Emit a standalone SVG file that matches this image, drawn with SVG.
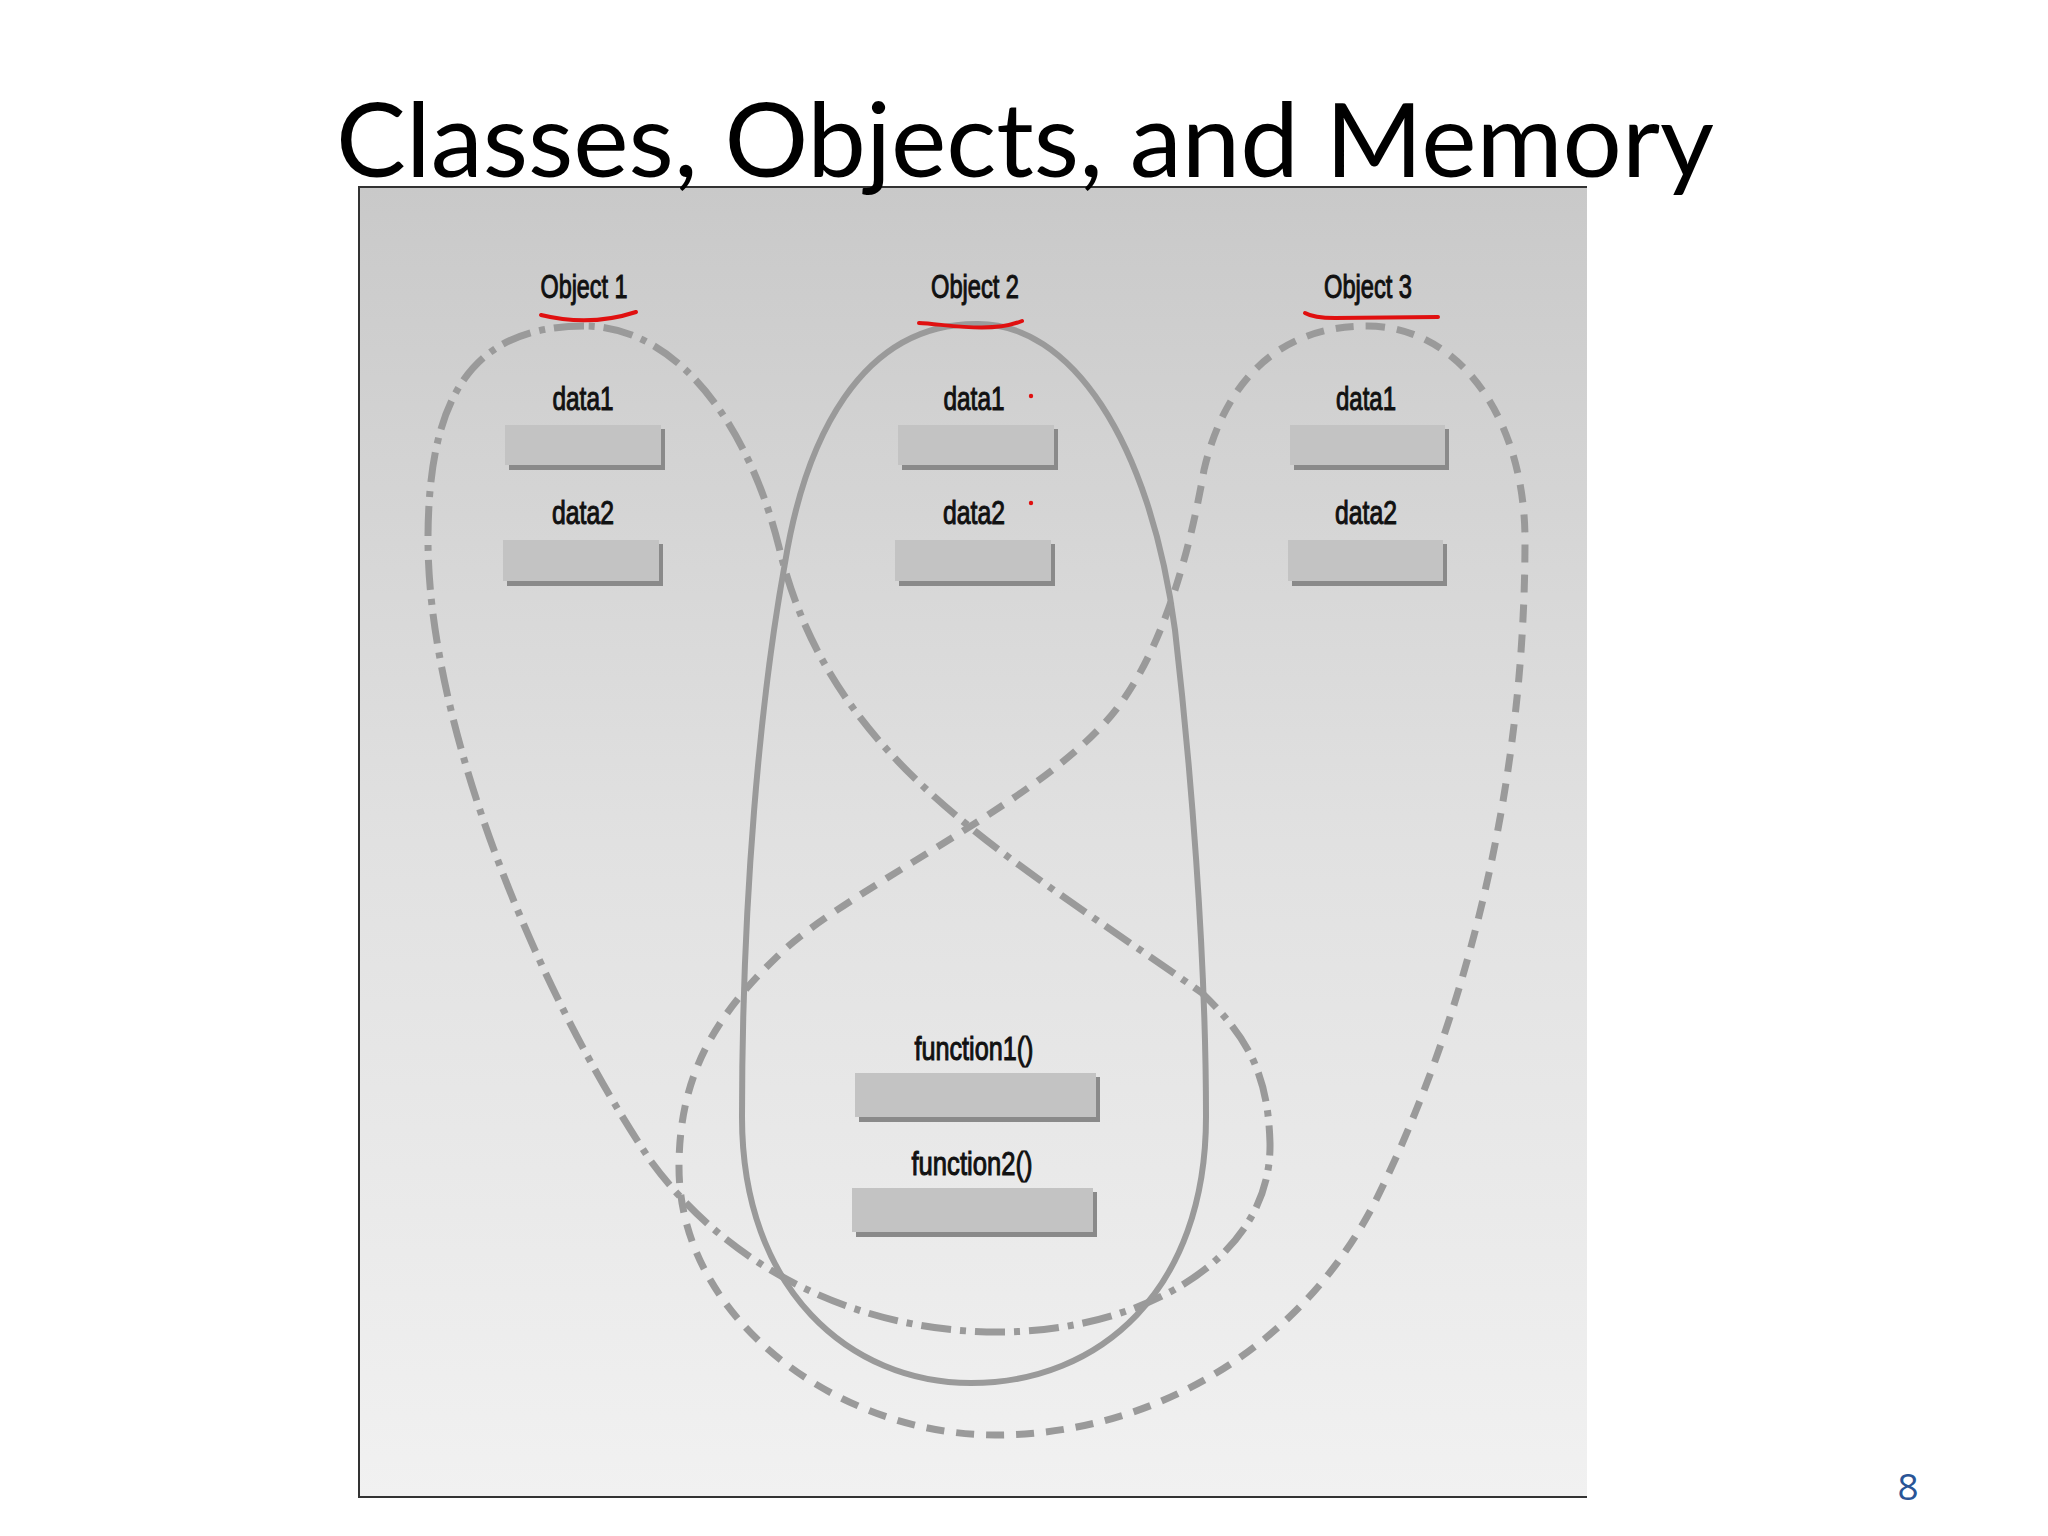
<svg xmlns="http://www.w3.org/2000/svg" width="2048" height="1536" viewBox="0 0 2048 1536">
<defs>
<linearGradient id="bg" x1="0" y1="0" x2="0" y2="1">
<stop offset="0" stop-color="#c9c9c9"/>
<stop offset="0.5" stop-color="#e1e1e1"/>
<stop offset="1" stop-color="#f1f1f1"/>
</linearGradient>
<style>
.lbl{font-family:"Liberation Sans",Arial,sans-serif;font-size:34px;fill:#111;text-anchor:middle;stroke:#111;stroke-width:1.1}
.face{fill:#c3c3c3}
.shadow{fill:#8a8a8a}
.loop{fill:none;stroke:#9a9a9a;stroke-linecap:butt}
.red{fill:none;stroke:#e01010;stroke-width:4;stroke-linecap:round}
</style>
</defs>
<rect width="2048" height="1536" fill="#ffffff"/>
<g id="panel">
<rect x="359" y="187" width="1228" height="1311" fill="url(#bg)"/>
<line x1="358" y1="187" x2="1587" y2="187" stroke="#333" stroke-width="2"/>
<line x1="359" y1="186" x2="359" y2="1498" stroke="#333" stroke-width="2"/>
<line x1="358" y1="1497" x2="1587" y2="1497" stroke="#333" stroke-width="2"/>
</g>
<g id="connectors">
<path id="loop-object1" class="loop" stroke-width="7" stroke-dasharray="30 9 6 9" d="M 584 326 C 470 326, 428 400, 428 540 C 428 720, 530 980, 650 1160 C 730 1270, 860 1332, 998 1332 C 1140 1332, 1272 1260, 1270 1143 C 1268 1070, 1245 1035, 1202 993 C 1000 850, 830 760, 779 547 C 750 430, 680 326, 584 326 Z"/>
<path id="loop-object3" class="loop" stroke-width="7" stroke-dasharray="18 12" d="M 1367 326 C 1460 326, 1525 420, 1525 540 C 1525 800, 1460 1030, 1376 1200 C 1300 1350, 1150 1435, 995 1435 C 840 1435, 679 1320, 679 1167 C 679 1070, 720 1010, 784 950 C 850 890, 1020 810, 1097 731 C 1150 680, 1185 580, 1204 470 C 1225 380, 1280 326, 1367 326 Z"/>
<path id="loop-object2" class="loop" stroke-width="6" d="M 976 324 C 1070 322, 1150 440, 1175 630 C 1190 760, 1206 950, 1206 1117 C 1206 1290, 1100 1383, 971 1383 C 850 1383, 742 1290, 742 1117 C 742 900, 760 700, 785 563 C 805 440, 860 324, 976 324 Z"/>
</g>
<g id="object1">
<text class="lbl" x="584" y="298" textLength="87" lengthAdjust="spacingAndGlyphs">Object 1</text>
<text class="lbl" x="583" y="410" textLength="61" lengthAdjust="spacingAndGlyphs">data1</text>
<rect class="shadow" x="509" y="429" width="156" height="41"/>
<rect class="face" x="505" y="425" width="156" height="40"/>
<text class="lbl" x="583" y="524" textLength="62" lengthAdjust="spacingAndGlyphs">data2</text>
<rect class="shadow" x="507" y="544" width="156" height="42"/>
<rect class="face" x="503" y="540" width="156" height="41"/>
</g>
<g id="object2">
<text class="lbl" x="975" y="298" textLength="88" lengthAdjust="spacingAndGlyphs">Object 2</text>
<text class="lbl" x="974" y="410" textLength="61" lengthAdjust="spacingAndGlyphs">data1</text>
<rect class="shadow" x="902" y="429" width="156" height="41"/>
<rect class="face" x="898" y="425" width="156" height="40"/>
<text class="lbl" x="974" y="524" textLength="62" lengthAdjust="spacingAndGlyphs">data2</text>
<rect class="shadow" x="899" y="544" width="156" height="42"/>
<rect class="face" x="895" y="540" width="156" height="41"/>
</g>
<g id="object3">
<text class="lbl" x="1368" y="298" textLength="88" lengthAdjust="spacingAndGlyphs">Object 3</text>
<text class="lbl" x="1366" y="410" textLength="60" lengthAdjust="spacingAndGlyphs">data1</text>
<rect class="shadow" x="1294" y="429" width="155" height="41"/>
<rect class="face" x="1290" y="425" width="155" height="40"/>
<text class="lbl" x="1366" y="524" textLength="62" lengthAdjust="spacingAndGlyphs">data2</text>
<rect class="shadow" x="1292" y="544" width="155" height="42"/>
<rect class="face" x="1288" y="540" width="155" height="41"/>
</g>
<g id="functions">
<text class="lbl" x="974" y="1060" textLength="119" lengthAdjust="spacingAndGlyphs">function1()</text>
<rect class="shadow" x="859" y="1077" width="241" height="45"/>
<rect class="face" x="855" y="1073" width="241" height="44"/>
<text class="lbl" x="972" y="1175" textLength="121" lengthAdjust="spacingAndGlyphs">function2()</text>
<rect class="shadow" x="856" y="1192" width="241" height="45"/>
<rect class="face" x="852" y="1188" width="241" height="44"/>
</g>
<g id="annotations">
<path class="red" d="M 541 315 Q 590 327 636 312"/>
<path class="red" d="M 919 323 C 945 324, 990 334, 1022 321"/>
<path class="red" d="M 1305 313 C 1312 317, 1320 318, 1335 318 L 1438 317"/>
<circle cx="1031" cy="396" r="2.2" fill="#e01010"/>
<circle cx="1031" cy="503" r="2.2" fill="#e01010"/>
</g>
<text id="title" x="1025" y="177" font-family="Lato, 'Open Sans', sans-serif" font-size="103" fill="#000" text-anchor="middle" textLength="1378" lengthAdjust="spacingAndGlyphs">Classes, Objects, and Memory</text>
<text id="page" x="1908" y="1500" font-family="'Open Sans', Lato, sans-serif" font-size="37" fill="#2a5596" text-anchor="middle">8</text>
</svg>
